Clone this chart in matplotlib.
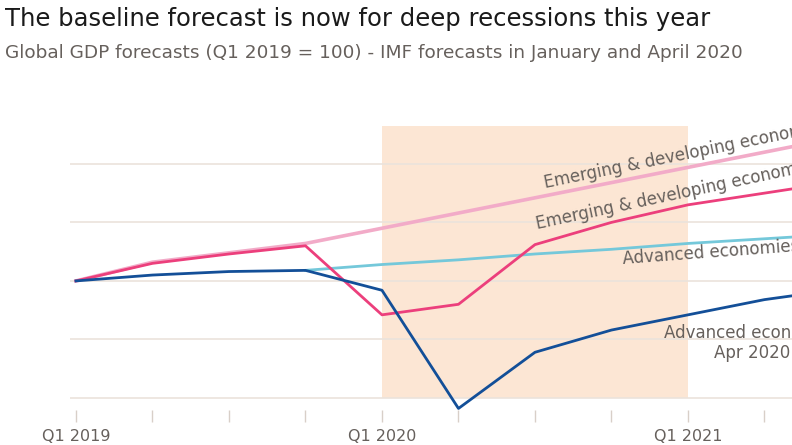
import matplotlib
matplotlib.use('Agg')
from matplotlib import pyplot as plt

# Quarterly index, Q1 2019 = 0
quarters = list(range(11))
tick_labels = ['Q1 2019', '', '', '', 'Q1 2020', '', '', '', 'Q1 2021', '', '']

# Global GDP forecasts, Q1 2019 = 100
adv_apr = [100, 100.5, 100.8, 100.9, 99.2, 89.1, 93.9, 95.8, 97.1, 98.4, 99.3]
adv_jan = [100, 100.5, 100.8, 100.9, 101.4, 101.8, 102.3, 102.7, 103.2, 103.6, 104.0]
em_apr = [100, 101.5, 102.3, 103.0, 97.1, 98.0, 103.1, 105.0, 106.5, 107.5, 108.5]
em_jan = [100, 101.6, 102.4, 103.2, 104.5, 105.8, 107.1, 108.4, 109.7, 111.0, 112.3]

plt.rcParams['font.family'] = ['DejaVu Sans']

fig = plt.figure(figsize=(7.92, 4.45), dpi=100)
ax = fig.add_axes([0.0884, 0.0787, 0.985, 0.674])

text_grey = '#66605c'
grid_col = '#ebe3dc'

# shaded forecast period
ax.fill_between([4, 8], 90, 113.2, color='#fce6d4', lw=0, zorder=0)

for y in [90, 95, 100, 105, 110]:
    ax.axhline(y, color=grid_col, lw=1.2, zorder=1)

ax.plot(quarters, em_jan, color='#f2abc8', lw=2.6, zorder=2)
ax.plot(quarters, em_apr, color='#ec3f7c', lw=2, zorder=3)
ax.plot(quarters[3:], adv_jan[3:], color='#74c8da', lw=2, zorder=2)
ax.plot(quarters, adv_apr, color='#134f98', lw=2, zorder=4, clip_on=False)

lab_size = 12
ax.text(6.13, 107.9, 'Emerging & developing economies', rotation=11.5,
        rotation_mode='anchor', ha='left', va='baseline', fontsize=lab_size, color=text_grey)
ax.text(6.03, 104.4, 'Emerging & developing economies', rotation=12,
        rotation_mode='anchor', ha='left', va='baseline', fontsize=lab_size, color=text_grey)
ax.text(7.15, 101.45, 'Advanced economies', rotation=4.2,
        rotation_mode='anchor', ha='left', va='baseline', fontsize=lab_size, color=text_grey)
ax.text(8.84, 94.7, 'Advanced economies\nApr 2020', ha='center', va='center',
        multialignment='center', fontsize=lab_size, color=text_grey, linespacing=1.1)

ax.set_xlim(-0.078, 10.12)
ax.set_ylim(88.97, 114.6)
ax.set_xticks(quarters)
ax.set_xticklabels(tick_labels)
ax.set_yticks([])
ax.tick_params(axis='x', length=8.6, width=1, color='#d8cfc8', labelsize=11.5,
               labelcolor=text_grey, pad=5)
for s in ax.spines.values():
    s.set_visible(False)

fig.text(0.006, 0.985, 'The baseline forecast is now for deep recessions this year',
         fontsize=17.5, color='#1a1a1a', va='top', ha='left')
fig.text(0.006, 0.9, 'Global GDP forecasts (Q1 2019 = 100) - IMF forecasts in January and April 2020',
         fontsize=13.3, color=text_grey, va='top', ha='left')

fig.savefig('out.png', dpi=100)
